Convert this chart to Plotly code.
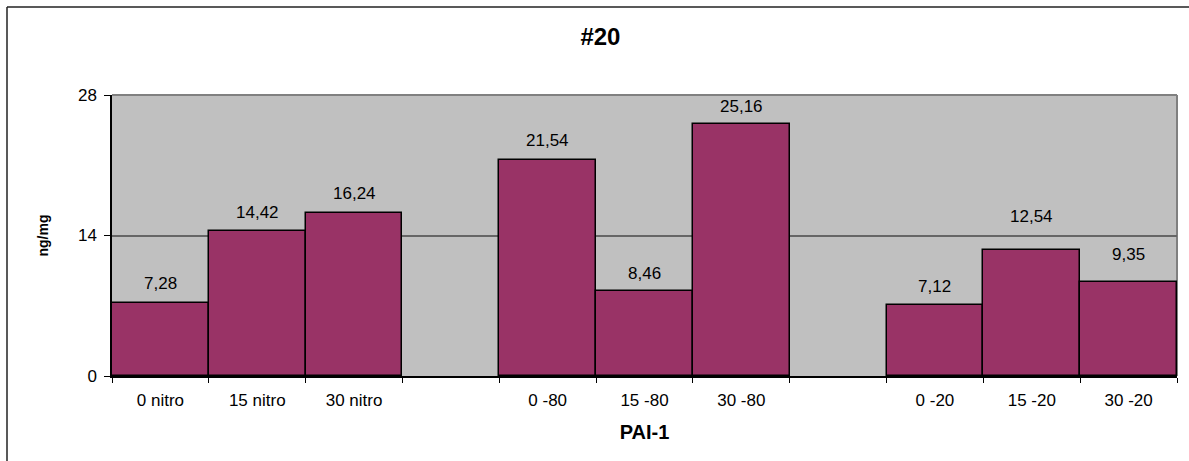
import plotly.graph_objects as go

categories = ["0 nitro", "15 nitro", "30 nitro", " ", "0 -80", "15 -80", "30 -80", "  ", "0 -20", "15 -20", "30 -20"]
values = [7.28, 14.42, 16.24, None, 21.54, 8.46, 25.16, None, 7.12, 12.54, 9.35]
y_ticks = [0, 14, 28]
title_text = "#20"
x_title = "PAI-1"
y_title = "ng/mg"

# label offsets (px above bar top), style only
label_shift = [19, 19, 20, 0, 19, 18, 17, 0, 18, 34, 28]

FONT = "Liberation Sans, Arial, sans-serif"

fig = go.Figure()
fig.add_trace(go.Bar(
    x=categories, y=values,
    marker=dict(color="#993366", line=dict(color="black", width=1.5)),
    width=1.0, hoverinfo="skip",
))

for c, v, s in zip(categories, values, label_shift):
    if v is None:
        continue
    fig.add_annotation(
        x=c, y=v, xref="x", yref="y", yshift=s, yanchor="middle",
        text=f"{v:.2f}".replace(".", ","), showarrow=False,
        font=dict(family=FONT, size=17, color="black"),
    )

fig.update_layout(
    width=1189, height=461,
    margin=dict(l=112, r=12, t=95, b=85),
    paper_bgcolor="white", plot_bgcolor="#C0C0C0",
    bargap=0, showlegend=False,
    title=dict(text=f"<b>{title_text}</b>", x=0.505, xref="container", xanchor="center",
               y=1 - 37 / 461, yref="container", yanchor="middle",
               font=dict(family=FONT, size=24, color="black")),
    font=dict(family=FONT, size=17, color="black"),
)

fig.update_xaxes(
    type="category", categoryorder="array", categoryarray=categories,
    tickson="boundaries", ticks="outside", ticklen=5, tickcolor="black",
    ticklabelstandoff=8,
    showline=True, linecolor="black", linewidth=1.5, showgrid=False,
    tickfont=dict(family=FONT, size=17, color="black"),
    title=dict(text=f"<b>{x_title}</b>", font=dict(family=FONT, size=20, color="black"), standoff=16),
)
fig.update_yaxes(
    range=[0, 28], tickvals=y_ticks, ticks="outside", ticklen=6, tickcolor="black",
    ticklabelstandoff=4,
    showline=True, linecolor="black", linewidth=1.5,
    showgrid=True, gridcolor="#666666", gridwidth=1.5, zeroline=False,
    tickfont=dict(family=FONT, size=17, color="black"),
    title=dict(text=f"<b>{y_title}</b>", font=dict(family=FONT, size=14, color="black"), standoff=26),
)

# plot-area frame (top/right in gray)
fig.add_shape(type="line", xref="paper", yref="paper", x0=0, x1=1, y0=1, y1=1,
              line=dict(color="#808080", width=2), layer="above")
fig.add_shape(type="line", xref="paper", yref="paper", x0=1, x1=1, y0=0, y1=1,
              line=dict(color="#808080", width=2), layer="below")
# outer chart border (left and top visible)
fig.add_shape(type="line", xref="paper", yref="paper",
              x0=(7 - 112) / 1065, x1=1.1, y0=(376 - 7) / 281, y1=(376 - 7) / 281,
              line=dict(color="#222222", width=1.5))
fig.add_shape(type="line", xref="paper", yref="paper",
              x0=(7 - 112) / 1065, x1=(7 - 112) / 1065, y0=-0.5, y1=(376 - 7) / 281,
              line=dict(color="#222222", width=1.5))

fig.write_html("out.html")
